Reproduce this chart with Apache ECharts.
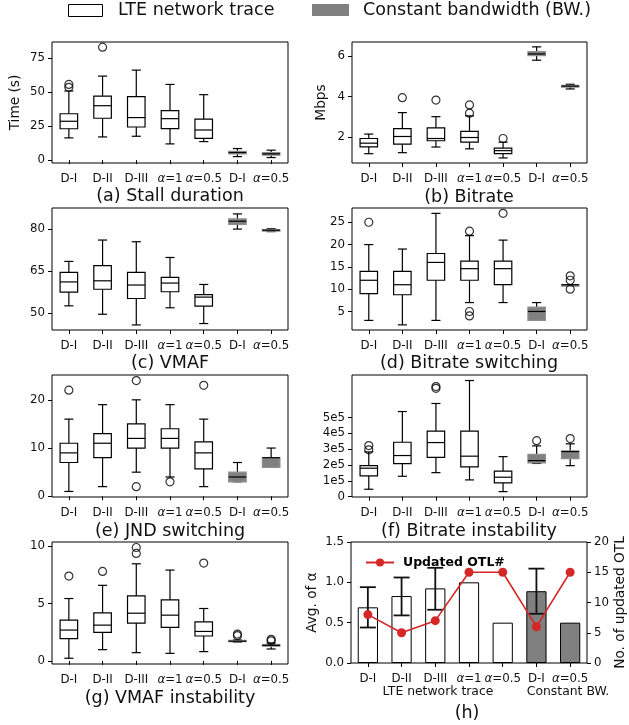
<!DOCTYPE html>
<html>
<head>
<meta charset="utf-8">
<script src="https://cdn.jsdelivr.net/npm/echarts@6/dist/echarts.min.js"></script>
<style>html,body{margin:0;padding:0;background:#fff}#c{width:629px;height:725px}</style>
</head>
<body>
<div id="c"></div>
<script>
// ---------- data ----------
const categories = ['D-I','D-II','D-III','α=1','α=0.5','D-I','α=0.5'];
const constantFlag = [0,0,0,0,0,1,1];

// box stats: [lower whisker, Q1, median, Q3, upper whisker]
const stallBox = [
  [16.3,23,28.5,34,50.7],[17,30.7,39.9,46.9,61.6],[17.5,24.3,31.2,46.5,66],
  [11.9,23.1,30.4,36.3,55.5],[13.6,16,22.1,30,48],[2.6,4.5,5.6,6.5,8.5],[1.9,3.6,4.6,5.5,7.3]
];
const stallOut = [[53.4,55.5],[82.8],[],[],[],[],[]];

const bitrateBox = [
  [1.18,1.52,1.70,1.93,2.15],[1.23,1.65,2.03,2.42,3.21],[1.51,1.82,1.93,2.46,3.01],
  [1.42,1.75,1.98,2.28,3.05],[0.97,1.18,1.33,1.46,1.75],[5.80,6.02,6.11,6.22,6.46],[4.38,4.47,4.52,4.56,4.61]
];
const bitrateOut = [[],[3.95],[3.83],[3.18,3.59],[1.93],[],[]];

const vmafBox = [
  [52.6,57.5,61.1,64.5,68.4],[49.6,58.5,61.5,66.9,76],[45.8,55.2,60,64.5,75.4],
  [51.9,57.6,60.7,62.7,69.8],[46.3,52.5,55.7,56.6,60.2],[79.9,81.6,82.7,83.5,85.3],[79.0,79.3,79.5,79.7,80.0]
];
const vmafOut = [[],[],[],[],[],[],[]];

const switchBox = [
  [3,9,12,14,20],[2,8.75,11,14,19],[3,12,16,18,27],
  [7,12,14.6,16.3,22],[7,11,14.6,16.3,21],[3,3,5,6,7],[11,11,11,11,11]
];
const switchOut = [[25],[],[],[23,5,4],[27],[],[13,12,10]];

const jndBox = [
  [1,7,9,11,16],[2,8,11,13,19],[5,10,12,15,20],
  [4,10,12,14,19],[2,5.7,9,11.3,16],[3,3,4,5,7],[6,6,8,8,10]
];
const jndOut = [[22],[],[24,2],[3],[23],[],[]];

const instabBox = [
  [0.47e5,1.31e5,1.80e5,1.96e5,2.83e5],[1.29e5,2.09e5,2.60e5,3.44e5,5.38e5],[1.52e5,2.49e5,3.42e5,4.14e5,5.89e5],
  [1.06e5,1.88e5,2.56e5,4.14e5,7.34e5],[0.32e5,0.87e5,1.23e5,1.61e5,2.53e5],[2.10e5,2.13e5,2.28e5,2.68e5,3.21e5],[1.96e5,2.41e5,2.85e5,2.89e5,3.34e5]
];
const instabOut = [[2.96e5,3.23e5],[],[6.85e5,6.96e5],[],[],[3.54e5],[3.67e5]];

const vmafInstBox = [
  [0.23,1.94,2.69,3.56,5.44],[0.98,2.49,3.12,4.19,6.59],[0.72,3.3,4.16,5.67,8.47],
  [0.66,2.92,3.99,5.32,7.92],[0.81,2.17,2.57,3.41,4.57],[1.65,1.67,1.72,1.80,1.82],[1.04,1.28,1.36,1.42,1.55]
];
const vmafInstOut = [[7.4],[7.8],[9.37,9.89],[],[8.53],[2.2,2.34],[1.75,1.88]];

const alphaAvg = [0.69,0.83,0.925,1.0,0.5,0.89,0.5];
const alphaErr = [[0.44,0.94],[0.59,1.06],[0.66,1.18],null,null,[0.61,1.17],null];
const otlCount = [8,5,7,15,15,6,15];

// tick labels
const stallTicks = [0,25,50,75];
const bitrateTicks = [2,4,6];
const vmafTicks = [50,65,80];
const switchTicks = [5,10,15,20,25];
const jndTicks = [0,10,20];
const instabTicks = [0,1e5,2e5,3e5,4e5,5e5];
const vmafInstTicks = [0,5,10];

// ---------- layout ----------
const FONT = 'DejaVu Sans';
const TXT = '#111';
const gridPos = [
  {left:52, top:42, width:236, height:121},
  {left:352, top:42, width:235, height:121},
  {left:52, top:208, width:236, height:122},
  {left:352, top:208, width:235, height:122},
  {left:52, top:375, width:236, height:122},
  {left:352, top:375, width:235, height:122},
  {left:52, top:542, width:236, height:122},
  {left:351, top:542, width:236, height:121}
];
const panels = [
  {box:stallBox, out:stallOut, min:-2.1, max:86.6, ticks:stallTicks, name:'Time (s)', gap:30},
  {box:bitrateBox, out:bitrateOut, min:0.72, max:6.7, ticks:bitrateTicks, name:'Mbps', gap:24},
  {box:vmafBox, out:vmafOut, min:44.0, max:87.4, ticks:vmafTicks, name:'', gap:30},
  {box:switchBox, out:switchOut, min:0.85, max:28.2, ticks:switchTicks, name:'', gap:30},
  {box:jndBox, out:jndOut, min:-0.15, max:25.15, ticks:jndTicks, name:'', gap:30},
  {box:instabBox, out:instabOut, min:-0.02e5, max:7.69e5, ticks:instabTicks, name:'', gap:30,
    fmt: v => v === 0 ? '0' : Math.round(v/1e5) + 'e5'},
  {box:vmafInstBox, out:vmafInstOut, min:-0.27, max:10.37, ticks:vmafInstTicks, name:'', gap:30}
];

const catLabel = {
  interval: 0, hideOverlap: false, margin: 10, color: TXT, fontSize: 11.8, fontFamily: FONT,
  formatter: v => v.indexOf('α') >= 0 ? v.replace('α', '{i|α}') : v,
  rich: { i: { fontStyle: 'italic', fontSize: 11.8, fontFamily: FONT, color: TXT } }
};

function boxItem(params, api) {
  const i = api.value(0);
  const c = api.value(6);
  const band = api.size([1, 0])[0];
  const hw = band * 0.26, cw = band * 0.135;
  const ys = [1,2,3,4,5].map(k => api.coord([i, api.value(k)])[1]);
  const x = api.coord([i, api.value(1)])[0];
  const [yLo, yQ1, yMed, yQ3, yHi] = ys;
  const blk = {stroke:'#000', lineWidth:1.2, fill:null};
  const boxStyle = c ? {fill:'#808080', stroke:'#8e8e8e', lineWidth:1.2}
                     : {fill:'#fff', stroke:'#000', lineWidth:1.2};
  return {
    type:'group',
    children:[
      {type:'line', shape:{x1:x, y1:yLo, x2:x, y2:yQ1}, style:blk},
      {type:'line', shape:{x1:x, y1:yQ3, x2:x, y2:yHi}, style:blk},
      {type:'line', shape:{x1:x-cw, y1:yLo, x2:x+cw, y2:yLo}, style:blk},
      {type:'line', shape:{x1:x-cw, y1:yHi, x2:x+cw, y2:yHi}, style:blk},
      {type:'rect', shape:{x:x-hw, y:yQ3, width:2*hw, height:Math.max(yQ1-yQ3, 1.5)}, style:boxStyle},
      {type:'line', shape:{x1:x-hw, y1:yMed, x2:x+hw, y2:yMed}, style:blk}
    ]
  };
}

function errItem(params, api) {
  const i = api.value(0);
  const pLo = api.coord([i, api.value(1)]);
  const pHi = api.coord([i, api.value(2)]);
  const x = pLo[0], cw = 8;
  const st = {stroke:'#111', lineWidth:1.8, fill:null};
  return {
    type:'group',
    children:[
      {type:'line', shape:{x1:x, y1:pLo[1], x2:x, y2:pHi[1]}, style:st},
      {type:'line', shape:{x1:x-cw, y1:pLo[1], x2:x+cw, y2:pLo[1]}, style:st},
      {type:'line', shape:{x1:x-cw, y1:pHi[1], x2:x+cw, y2:pHi[1]}, style:st}
    ]
  };
}

const grid = gridPos.map(g => Object.assign({show:true, borderColor:'#000', borderWidth:1, backgroundColor:'rgba(0,0,0,0)'}, g));
const xAxis = gridPos.map((g, i) => ({
  type:'category', gridIndex:i, data:categories, boundaryGap:true,
  axisLine:{show:false}, axisTick:{show:true, alignWithLabel:true, length:4, lineStyle:{color:'#000'}},
  axisLabel:catLabel, splitLine:{show:false}
}));
const yAxis = [];
const series = [];
panels.forEach((p, i) => {
  yAxis.push({
    type:'value', gridIndex:i, min:p.min, max:p.max,
    name:p.name, nameLocation:'middle', nameRotate:90, nameGap:p.gap,
    nameTextStyle:{fontSize:13.7, fontFamily:FONT, color:TXT},
    axisLine:{show:false}, splitLine:{show:false},
    axisTick:{show:true, length:4, lineStyle:{color:'#000'}, customValues:p.ticks},
    axisLabel:{customValues:p.ticks, fontSize:11.8, fontFamily:FONT, color:TXT, margin:7,
      formatter: p.fmt || (v => String(v))}
  });
  series.push({
    type:'custom', xAxisIndex:i, yAxisIndex:i, renderItem:boxItem, clip:false, z:2,
    encode:{x:0, y:[1,2,3,4,5]},
    data:p.box.map((b, j) => [j, b[0], b[1], b[2], b[3], b[4], constantFlag[j]])
  });
  series.push({
    type:'scatter', xAxisIndex:i, yAxisIndex:i, symbol:'circle', symbolSize:8, z:3,
    itemStyle:{color:'rgba(0,0,0,0)', borderColor:'#000', borderWidth:1.2},
    data:p.out.flatMap((arr, j) => arr.map(v => [j, v]))
  });
});
// panel (h)
yAxis.push({
  type:'value', gridIndex:7, min:0, max:1.5, interval:0.5,
  name:'Avg. of α', nameLocation:'middle', nameRotate:90, nameGap:32,
  nameTextStyle:{fontSize:13.7, fontFamily:FONT, color:TXT},
  axisLine:{show:false}, splitLine:{show:false},
  axisTick:{show:true, length:4, lineStyle:{color:'#000'}},
  axisLabel:{fontSize:11.8, fontFamily:FONT, color:TXT, margin:7, formatter: v => v.toFixed(1)}
});
yAxis.push({
  type:'value', gridIndex:7, position:'right', min:0, max:20, interval:5,
  name:'No. of updated OTL', nameLocation:'middle', nameRotate:90, nameGap:26,
  nameTextStyle:{fontSize:13.7, fontFamily:FONT, color:TXT},
  axisLine:{show:false}, splitLine:{show:false},
  axisTick:{show:true, length:4, lineStyle:{color:'#000'}},
  axisLabel:{fontSize:11.8, fontFamily:FONT, color:TXT, margin:7}
});
series.push({
  type:'bar', xAxisIndex:7, yAxisIndex:7, barWidth:'60%', z:2,
  data:alphaAvg.map((v, j) => ({value:v, itemStyle:{color: constantFlag[j] ? '#808080' : '#fff', borderColor:'#000', borderWidth:1}}))
});
series.push({
  type:'custom', xAxisIndex:7, yAxisIndex:7, renderItem:errItem, clip:false, z:3,
  encode:{x:0, y:[1,2]},
  data:alphaErr.map((e, j) => e ? [j, e[0], e[1]] : null).filter(d => d)
});
series.push({
  name:'Updated OTL#', type:'line', xAxisIndex:7, yAxisIndex:8, z:4,
  data:otlCount, symbol:'circle', symbolSize:9,
  itemStyle:{color:'#d62728'}, lineStyle:{color:'#d62728', width:1.6}
});

const titleText = (x, y, t, size) => ({
  type:'text', x:x, y:y, z:10,
  style:{text:t, fontSize:size, fontFamily:FONT, fill:TXT, align:'center', verticalAlign:'middle',
         textAlign:'center', textVerticalAlign:'middle'}
});

const option = {
  backgroundColor:'#fff',
  animation:false,
  grid, xAxis, yAxis, series,
  legend:{
    data:['Updated OTL#'], left:360, top:551, itemWidth:28, itemHeight:10,
    textStyle:{fontWeight:'bold', fontSize:12.5, fontFamily:FONT, color:'#000', padding:[0,0,0,4]}
  },
  graphic:[
    {type:'rect', shape:{x:68.5, y:4.5, width:34, height:12}, style:{fill:'#fff', stroke:'#000', lineWidth:1}},
    {type:'text', x:118, y:10, style:{text:'LTE network trace', fontSize:17.5, fontFamily:FONT, fill:TXT, verticalAlign:'middle', textVerticalAlign:'middle'}},
    {type:'rect', shape:{x:312, y:4, width:37, height:12}, style:{fill:'#808080'}},
    {type:'text', x:363, y:10, style:{text:'Constant bandwidth (BW.)', fontSize:17.5, fontFamily:FONT, fill:TXT, verticalAlign:'middle', textVerticalAlign:'middle'}},
    titleText(170, 196, '(a) Stall duration', 17.5),
    titleText(469, 197, '(b) Bitrate', 17.5),
    titleText(170, 363, '(c) VMAF', 17.5),
    titleText(469, 363, '(d) Bitrate switching', 17.5),
    titleText(170, 531, '(e) JND switching', 17.5),
    titleText(469, 531, '(f) Bitrate instability', 17.5),
    titleText(170, 698, '(g) VMAF instability', 17.5),
    titleText(438, 692, 'LTE network trace', 12.4),
    titleText(568, 692, 'Constant BW.', 12.4),
    titleText(467, 713, '(h)', 17.5)
  ]
};
const chart = echarts.init(document.getElementById('c'), null, {renderer:'canvas'});
chart.setOption(option);
</script>
</body>
</html>
